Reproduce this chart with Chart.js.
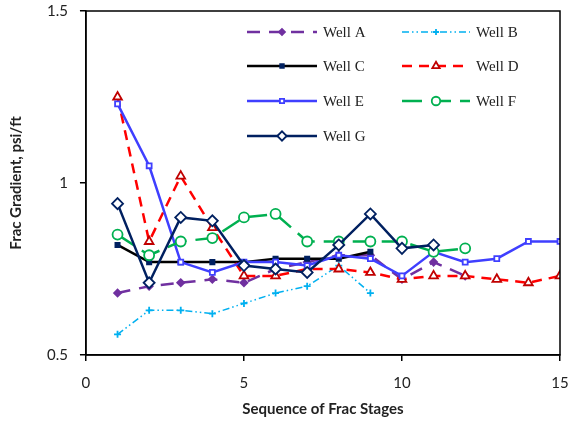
<!DOCTYPE html>
<html>
<head>
<meta charset="utf-8">
<script src="https://cdn.jsdelivr.net/npm/chart.js@4/dist/chart.umd.min.js"></script>
<style>
  html, body { margin: 0; padding: 0; background: #fff; }
  #wrap { width: 569px; height: 422px; }
</style>
</head>
<body>
<div id="wrap"><canvas id="fracChart" width="569" height="422"></canvas></div>
<script>
// Frac gradient per stage, one array per well (index 0 = stage 1)
const stages = [1, 2, 3, 4, 5, 6, 7, 8, 9, 10, 11, 12, 13, 14, 15];
const wellA = [0.68, 0.70, 0.71, 0.72, 0.71, 0.75, 0.77, 0.79, 0.79, 0.72, 0.77, 0.73];
const wellB = [0.56, 0.63, 0.63, 0.62, 0.65, 0.68, 0.70, 0.76, 0.68];
const wellC = [0.82, 0.77, 0.77, 0.77, 0.77, 0.78, 0.78, 0.78, 0.80];
const wellD = [1.25, 0.83, 1.02, 0.87, 0.73, 0.73, 0.75, 0.75, 0.74, 0.72, 0.73, 0.73, 0.72, 0.71, 0.73];
const wellE = [1.23, 1.05, 0.77, 0.74, 0.77, 0.77, 0.76, 0.79, 0.78, 0.73, 0.80, 0.77, 0.78, 0.83, 0.83];
const wellF = [0.85, 0.79, 0.83, 0.84, 0.90, 0.91, 0.83, 0.83, 0.83, 0.83, 0.80, 0.81];
const wellG = [0.94, 0.71, 0.90, 0.89, 0.76, 0.75, 0.74, 0.82, 0.91, 0.81, 0.82];
const xTicks = [0, 5, 10, 15];
const yTicks = [0.5, 1, 1.5];

// turn a list of values into {x, y} points using the stage numbers
function pts(values) {
  return values.map((v, i) => ({ x: stages[i], y: v }));
}

// Excel-like series styles
const wells = [
  { label: "Well A", data: wellA, color: "#7030A0", dash: [13, 9], width: 2.5,
    point: "rectRot", radius: 3.5, pointFill: "#7030A0", pointBorder: "#7030A0" },
  { label: "Well B", data: wellB, color: "#00B0F0", dash: [7, 3, 1.5, 3, 1.5, 3], width: 1.5,
    point: "cross", radius: 3.5, pointFill: "#00B0F0", pointBorder: "#00B0F0" },
  { label: "Well C", data: wellC, color: "#000000", dash: [], width: 2.5,
    point: "rect", radius: 3, pointFill: "#002060", pointBorder: "#002060" },
  { label: "Well D", data: wellD, color: "#FF0000", dash: [10, 7], width: 2.5,
    point: "triangle", radius: 5, pointFill: "#FFFFFF", pointBorder: "#C00000" },
  { label: "Well E", data: wellE, color: "#3F3FFF", dash: [], width: 2.5,
    point: "rect", radius: 3.5, pointFill: "#FFFFFF", pointBorder: "#3F3FFF" },
  { label: "Well F", data: wellF, color: "#00B050", dash: [20, 9], width: 2.5,
    point: "circle", radius: 5, pointFill: "#FFFFFF", pointBorder: "#00B050" },
  { label: "Well G", data: wellG, color: "#002060", dash: [], width: 2.5,
    point: "rectRot", radius: 5.5, pointFill: "#FFFFFF", pointBorder: "#002060" },
];

const datasets = wells.map((w, i) => ({
  label: w.label,
  data: pts(w.data),
  borderColor: w.color,
  borderWidth: w.width,
  borderDash: w.dash,
  backgroundColor: w.pointFill,
  pointStyle: w.point,
  pointRadius: w.radius,
  pointBackgroundColor: w.pointFill,
  pointBorderColor: w.pointBorder,
  pointBorderWidth: 1.8,
  tension: 0,
  fill: false,
  order: wells.length - i, // later wells drawn on top
}));

// frame around the plot area + legend inside it
const framePlugin = {
  id: "frame",
  afterDraw(chart) {
    const { ctx, chartArea: a } = chart;
    ctx.save();
    ctx.strokeStyle = "#000";
    ctx.lineWidth = 1.5;
    ctx.strokeRect(a.left, a.top, a.right - a.left, a.bottom - a.top);

    // legend: two columns, four rows
    const cols = [{ x: 247, len: 70 }, { x: 402, len: 68 }];
    const rows = [32, 66, 101, 136];
    ctx.font = "15px 'Liberation Serif', 'Times New Roman', serif";
    ctx.textBaseline = "middle";
    wells.forEach((w, i) => {
      const c = cols[i % 2];
      const y = rows[Math.floor(i / 2)];
      ctx.strokeStyle = w.color;
      ctx.lineWidth = w.width;
      ctx.setLineDash(w.dash);
      ctx.beginPath();
      ctx.moveTo(c.x, y);
      ctx.lineTo(c.x + c.len, y);
      ctx.stroke();
      ctx.setLineDash([]);
      ctx.fillStyle = w.pointFill;
      ctx.strokeStyle = w.pointBorder;
      ctx.lineWidth = 1.8;
      Chart.helpers.drawPoint(ctx, { pointStyle: w.point, radius: w.radius * 0.85, borderWidth: 1.8, rotation: 0 },
        c.x + c.len / 2, y);
      ctx.fillStyle = "#222";
      ctx.fillText(w.label, c.x + c.len + 6, y + 1);
    });
    ctx.restore();
  },
};

const tickFont = { family: "Lato, 'Open Sans', sans-serif", size: 15 };
const titleFont = { family: "Lato, 'Open Sans', sans-serif", size: 15, weight: "bold" };

const ctx = document.getElementById("fracChart").getContext("2d");

new Chart(ctx, {
  type: "line",
  data: { datasets: datasets },
  options: {
    responsive: false,
    animation: false,
    layout: { padding: { top: 11, right: 9, left: 3, bottom: 4 } },
    plugins: {
      legend: { display: false },
      tooltip: { enabled: false },
    },
    scales: {
      x: {
        type: "linear",
        min: 0,
        max: 15,
        afterBuildTicks: (axis) => { axis.ticks = xTicks.map((v) => ({ value: v })); },
        afterFit: (axis) => { axis.paddingRight = 0; axis.paddingLeft = 0; },
        grid: { display: true, drawOnChartArea: false, drawTicks: true, tickLength: 6, color: "#000", lineWidth: 1.5 },
        border: { display: true, color: "#000", width: 1.5 },
        ticks: { color: "#222", font: tickFont, padding: 13, maxRotation: 0 },
        title: { display: true, text: "Sequence of Frac Stages", color: "#222", font: titleFont, padding: { top: -5, bottom: 0 } },
      },
      y: {
        type: "linear",
        min: 0.5,
        max: 1.5,
        afterBuildTicks: (axis) => { axis.ticks = yTicks.map((v) => ({ value: v })); },
        afterFit: (axis) => { axis.paddingTop = 0; axis.paddingBottom = 0; },
        grid: { display: true, drawOnChartArea: false, drawTicks: true, tickLength: 6, color: "#000", lineWidth: 1.5 },
        border: { display: true, color: "#000", width: 1.5 },
        ticks: { color: "#222", font: tickFont, padding: 12, callback: (v) => String(v) },
        title: { display: true, text: "Frac Gradient, psi/ft", color: "#222", font: titleFont, padding: { bottom: 10 } },
      },
    },
  },
  plugins: [framePlugin],
});
</script>
</body>
</html>
